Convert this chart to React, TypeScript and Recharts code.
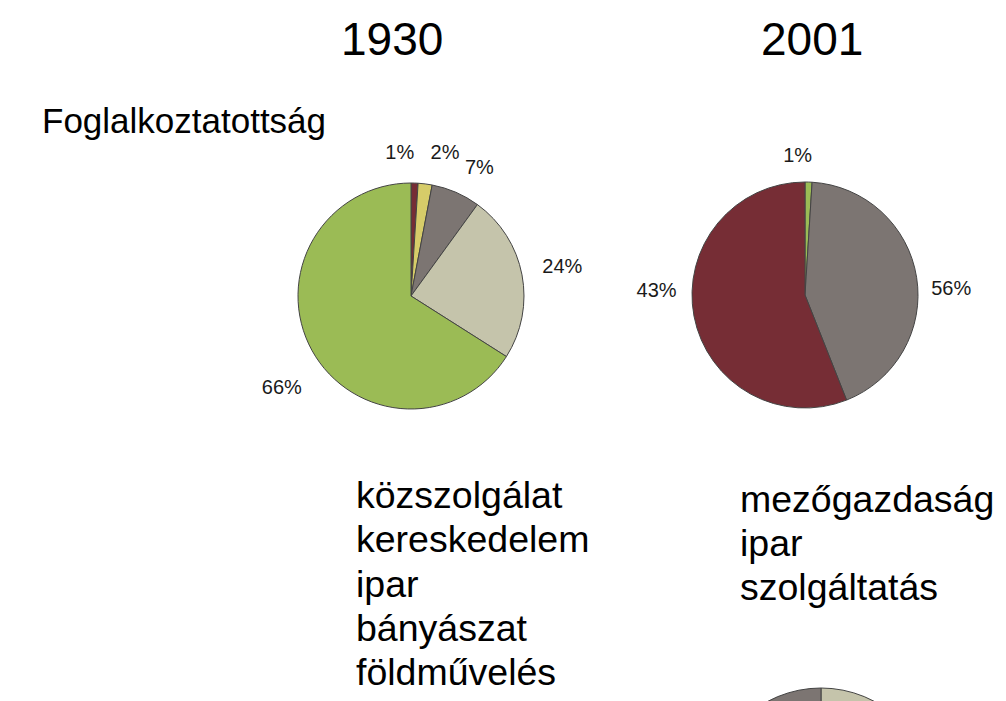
import { PieChart, Pie, Cell } from 'recharts';

// 1930 foglalkoztatottság (slices clockwise from top)
const categories1930 = ['közszolgálat', 'kereskedelem', 'ipar', 'bányászat', 'földművelés'];
const values1930 = [1, 2, 7, 24, 66];
const labels1930 = ['1%', '2%', '7%', '24%', '66%'];

// 2001 (labels as printed on the slide)
const categories2001 = ['mezőgazdaság', 'ipar', 'szolgáltatás'];
const values2001 = [1, 43, 56];
const labels2001 = ['1%', '56%', '43%'];

// next slide's pie, only its top edge shows
const nextCategories = ['a', 'b'];
const nextValues = [50, 50];

const colors1930 = ['#762d35', '#d6cc69', '#7c7572', '#c5c4ab', '#9bbb55'];
const colors2001 = ['#9bbb55', '#7c7572', '#762d35'];
const nextColors = ['#c5c4ab', '#7c7572'];

// small per-label shifts so crowded labels don't collide
const nudges1930: [number, number][] = [[-16, 8], [15, 7], [8, 10], [2, -2], [4, 18]];
const nudges2001: [number, number][] = [[-12, 8], [0, 16], [-3, -33]];

const FONT = '"Liberation Sans", Arial, Helvetica, sans-serif';
const RAD = Math.PI / 180;

const data1930 = categories1930.map((name, i) => ({ name, value: values1930[i] }));
const data2001 = categories2001.map((name, i) => ({ name, value: values2001[i] }));
const nextData = nextCategories.map((name, i) => ({ name, value: nextValues[i] }));

const makeLabel = (texts: string[], nudges: [number, number][], gap: number) => (props: any) => {
    const { cx, cy, midAngle, outerRadius, index } = props;
    const r = outerRadius + gap;
    const x = cx + r * Math.cos(-midAngle * RAD) + nudges[index][0];
    const y = cy + r * Math.sin(-midAngle * RAD) + nudges[index][1];
    return (
        <text
            x={x}
            y={y}
            textAnchor="middle"
            dominantBaseline="central"
            fontSize={20}
            fontFamily={FONT}
            fill="#1a1a1a"
        >
            {texts[index]}
        </text>
    );
};

const abs = (left: number, top: number, size: number, lineHeight?: number) => ({
    position: 'absolute' as const,
    left,
    top,
    fontSize: size,
    lineHeight: `${lineHeight ?? size}px`,
    fontFamily: FONT,
    color: '#000',
    whiteSpace: 'nowrap' as const,
});

export default function App() {
    return (
        <div
            style={{
                position: 'absolute',
                left: 0,
                top: 0,
                width: 1006,
                height: 701,
                background: '#fff',
                overflow: 'hidden',
            }}
        >
            <div style={{ position: 'absolute', left: 0, top: 0 }}>
                <PieChart width={1006} height={701} margin={{ top: 0, right: 0, bottom: 0, left: 0 }}>
                    <Pie
                        data={data1930}
                        dataKey="value"
                        cx={411}
                        cy={296}
                        outerRadius={113}
                        startAngle={90}
                        endAngle={-270}
                        stroke="#444"
                        strokeWidth={1}
                        labelLine={false}
                        label={makeLabel(labels1930, nudges1930, 39)}
                        isAnimationActive={false}
                    >
                        {data1930.map((d, i) => (
                            <Cell key={d.name} fill={colors1930[i]} />
                        ))}
                    </Pie>
                    <Pie
                        data={data2001}
                        dataKey="value"
                        cx={805}
                        cy={295}
                        outerRadius={113}
                        startAngle={90}
                        endAngle={-270}
                        stroke="#444"
                        strokeWidth={1}
                        labelLine={false}
                        label={makeLabel(labels2001, nudges2001, 35)}
                        isAnimationActive={false}
                    >
                        {data2001.map((d, i) => (
                            <Cell key={d.name} fill={colors2001[i]} />
                        ))}
                    </Pie>
                    <Pie
                        data={nextData}
                        dataKey="value"
                        cx={821}
                        cy={801}
                        outerRadius={113}
                        startAngle={90}
                        endAngle={-270}
                        stroke="#444"
                        strokeWidth={1}
                        isAnimationActive={false}
                    >
                        {nextData.map((d, i) => (
                            <Cell key={d.name} fill={nextColors[i]} />
                        ))}
                    </Pie>
                </PieChart>
            </div>

            <div style={abs(341, 16, 46)}>1930</div>
            <div style={abs(761, 16, 46)}>2001</div>
            <div style={abs(42, 103, 35)}>Foglalkoztatottság</div>

            <div style={abs(356, 473, 37.5, 44.3)}>
                {categories1930.map((c) => (
                    <div key={c}>{c}</div>
                ))}
            </div>
            <div style={abs(740, 477, 37.5, 44)}>
                {categories2001.map((c) => (
                    <div key={c}>{c}</div>
                ))}
            </div>
        </div>
    );
}
